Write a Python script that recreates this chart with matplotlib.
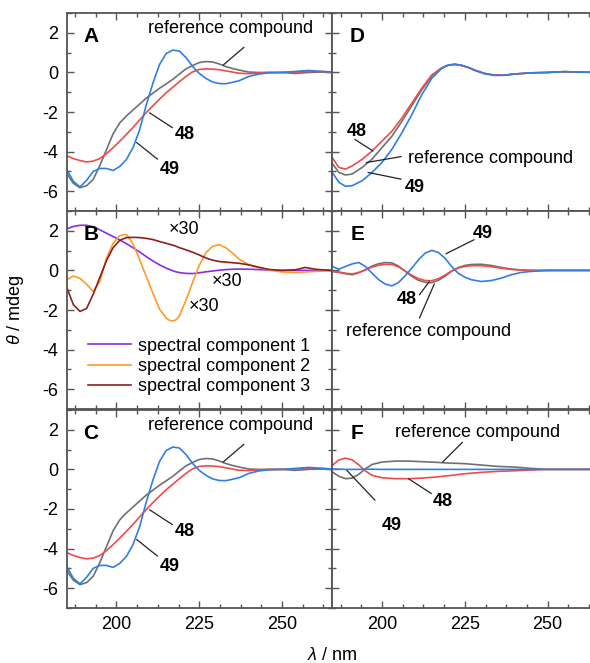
import matplotlib
matplotlib.use("Agg")
import matplotlib.pyplot as plt
from matplotlib.ticker import MultipleLocator, FixedLocator

plt.rcParams["font.family"] = ["Liberation Sans", "DejaVu Sans"]
plt.rcParams["mathtext.fontset"] = "custom"
plt.rcParams["mathtext.it"] = "Liberation Sans:italic"
plt.rcParams["mathtext.rm"] = "Liberation Sans"
plt.rcParams["axes.unicode_minus"] = False

# ---- data (CD spectra, theta / mdeg) ----
wl_A = [185, 187, 189, 191, 193, 195, 197, 199, 201, 203, 205, 207, 209, 211, 213, 215, 217,
        219, 221, 223, 225, 227, 229, 231, 233, 235, 237, 240, 243, 246, 250, 254, 258, 262, 265]
ref_A = [-5.1, -5.6, -5.82, -5.72, -5.4, -4.7, -3.9, -3.1, -2.55, -2.2, -1.9, -1.6, -1.3, -1.05,
         -0.8, -0.58, -0.35, -0.08, 0.18, 0.35, 0.5, 0.55, 0.53, 0.43, 0.3, 0.2, 0.12, 0.02, 0.0,
         0.0, 0.0, -0.05, 0.0, 0.02, 0.0]
c48_A = [-4.2, -4.35, -4.45, -4.52, -4.48, -4.35, -4.1, -3.8, -3.47, -3.13, -2.78, -2.4, -2.03,
         -1.68, -1.35, -1.03, -0.75, -0.47, -0.2, 0.03, 0.15, 0.18, 0.17, 0.14, 0.08, 0.02, -0.04,
         -0.06, -0.03, 0.0, 0.0, 0.02, 0.05, 0.05, 0.02]
c49_A = [-4.9, -5.5, -5.78, -5.45, -5.0, -4.85, -4.85, -4.95, -4.75, -4.4, -3.8, -2.9, -1.65,
         -0.55, 0.4, 0.95, 1.13, 1.08, 0.75, 0.3, -0.05, -0.3, -0.48, -0.56, -0.57, -0.5, -0.42,
         -0.2, -0.08, -0.02, 0.0, 0.05, 0.1, 0.05, 0.02]

wl_B = [185, 187, 189, 191, 193, 195, 197, 199, 201, 203, 205, 207, 209, 211, 213, 215, 216, 217,
        218, 219, 221, 223, 225, 227, 229, 231, 233, 235, 237, 240, 243, 246, 250, 254, 257, 260,
        263, 265]
comp1 = [2.1, 2.22, 2.28, 2.28, 2.21, 2.05, 1.88, 1.71, 1.54, 1.35, 1.15, 0.93, 0.7, 0.48, 0.28,
         0.12, 0.05, -0.02, -0.07, -0.11, -0.15, -0.16, -0.12, -0.07, -0.03, 0.01, 0.04, 0.06, 0.07,
         0.06, 0.04, 0.02, 0.0, 0.0, 0.0, 0.0, 0.0, 0.0]
comp2 = [-0.48, -0.28, -0.4, -0.7, -1.07, -0.56, 0.62, 1.37, 1.76, 1.82, 1.35, 0.55, -0.3, -1.15,
         -1.95, -2.4, -2.52, -2.55, -2.5, -2.3, -1.5, -0.6, 0.25, 0.9, 1.22, 1.3, 1.15, 0.88,
         0.58, 0.28, 0.14, 0.02, -0.08, -0.1, -0.08, -0.05, -0.02, 0.0]
comp3 = [-0.85, -1.73, -2.07, -1.92, -1.2, -0.35, 0.5, 1.15, 1.52, 1.66, 1.67, 1.66, 1.62, 1.56,
         1.46, 1.37, 1.32, 1.28, 1.22, 1.15, 1.04, 0.92, 0.78, 0.63, 0.52, 0.45, 0.42, 0.39, 0.36,
         0.28, 0.16, 0.05, 0.0, 0.03, 0.15, 0.06, 0.02, 0.0]

wl_D = [185, 187, 189, 191, 194, 197, 200, 203, 206, 209, 212, 215, 218, 220, 222, 224, 226, 228,
        231, 234, 237, 240, 245, 250, 255, 260, 265]
ref_D = [-4.6, -5.05, -5.18, -5.13, -4.8, -4.38, -3.8, -3.22, -2.47, -1.68, -0.88, -0.18, 0.23,
         0.37, 0.41, 0.36, 0.26, 0.12, -0.05, -0.14, -0.14, -0.08, -0.02, 0.0, 0.04, 0.02, 0.0]
c48_D = [-4.3, -4.8, -4.88, -4.72, -4.39, -3.97, -3.47, -2.97, -2.3, -1.55, -0.8, -0.13, 0.23,
         0.36, 0.4, 0.35, 0.25, 0.12, -0.05, -0.13, -0.13, -0.08, -0.02, 0.0, 0.04, 0.02, 0.0]
c49_D = [-5.05, -5.55, -5.75, -5.72, -5.47, -5.05, -4.55, -3.88, -3.05, -2.13, -1.13, -0.3, 0.2,
         0.37, 0.42, 0.36, 0.26, 0.1, -0.07, -0.15, -0.14, -0.08, -0.02, 0.0, 0.04, 0.02, 0.0]

wl_E = [185, 187, 189, 191, 193, 195, 197, 199, 201, 203, 205, 207, 209, 211, 213, 215, 217, 219,
        221, 223, 225, 227, 230, 233, 236, 239, 242, 245, 250, 255, 260, 265]
ref_E = [-0.05, -0.1, -0.17, -0.22, -0.12, 0.04, 0.22, 0.34, 0.4, 0.38, 0.22, -0.04, -0.3, -0.5,
         -0.6, -0.62, -0.5, -0.3, -0.04, 0.14, 0.25, 0.3, 0.31, 0.25, 0.15, 0.07, 0.02, 0.0, 0.0,
         0.0, 0.0, 0.0]
c48_E = [-0.05, -0.08, -0.14, -0.18, -0.1, 0.02, 0.17, 0.26, 0.31, 0.3, 0.18, -0.03, -0.24, -0.41,
         -0.51, -0.52, -0.42, -0.24, -0.03, 0.12, 0.2, 0.24, 0.24, 0.19, 0.11, 0.05, 0.02, 0.0, 0.0,
         0.0, 0.0, 0.0]
c49_E = [0.2, 0.06, 0.2, 0.33, 0.4, 0.2, -0.14, -0.47, -0.69, -0.78, -0.61, -0.27, 0.12, 0.53,
         0.87, 1.01, 0.91, 0.62, 0.2, -0.14, -0.34, -0.47, -0.56, -0.51, -0.39, -0.22, -0.1, -0.05,
         0.0, 0.0, 0.0, 0.0]

wl_F = [185, 187, 189, 191, 193, 195, 197, 200, 204, 208, 212, 216, 220, 225, 230, 235, 240, 245,
        250, 255, 260, 265]
ref_F = [-0.13, -0.35, -0.47, -0.44, -0.25, 0.03, 0.25, 0.37, 0.42, 0.42, 0.39, 0.36, 0.32, 0.29,
         0.22, 0.15, 0.12, 0.05, 0.0, 0.0, 0.0, 0.0]
c48_F = [0.2, 0.48, 0.57, 0.48, 0.23, -0.08, -0.3, -0.42, -0.47, -0.47, -0.44, -0.39, -0.32,
         -0.22, -0.15, -0.1, -0.07, -0.03, 0.0, 0.0, 0.0, 0.0]
c49_F = [0.02, 0.01, 0.0, 0.0, 0.0, 0.01, 0.01, 0.0, 0.0, 0.0, 0.0, 0.0, 0.0, 0.0, 0.0, 0.0, 0.0,
         0.0, 0.0, 0.0, 0.0, 0.0]

comp_labels = ["spectral component 1", "spectral component 2", "spectral component 3"]

C_REF, C_48, C_49 = "#707070", "#f24a4c", "#2f7fe4"
C_1, C_2, C_3 = "#8a2ce8", "#ff9a28", "#8e1f1f"
LW = 1.2
FS = 13


def style(ax, left_labels, bottom_labels):
    ax.set_xlim(185, 265)
    ax.set_ylim(-7, 3)
    ax.xaxis.set_major_locator(FixedLocator([200, 225, 250]))
    ax.xaxis.set_minor_locator(MultipleLocator(6.25))
    ax.yaxis.set_major_locator(FixedLocator([-6, -4, -2, 0, 2]))
    ax.yaxis.set_minor_locator(MultipleLocator(1))
    ax.tick_params(which="both", direction="in", top=True, right=True, color="#555555",
                   labelsize=FS, labelleft=left_labels, labelbottom=bottom_labels)
    ax.tick_params(which="major", length=5, width=1.0, pad=6)
    ax.tick_params(which="minor", length=3, width=1.0)
    for s in ax.spines.values():
        s.set_color("#555555")
        s.set_linewidth(1.3)


def three(ax, wl, ref, c48, c49):
    ax.plot(wl, ref, color=C_REF, lw=LW)
    ax.plot(wl, c48, color=C_48, lw=LW)
    ax.plot(wl, c49, color=C_49, lw=LW)


def note(ax, txt, tx, ty, x0, y0, x1, y1, bold=False, ha="center"):
    ax.text(tx, ty, txt, fontsize=FS, ha=ha, va="center",
            fontweight="bold" if bold else "normal")
    ax.annotate("", xy=(x0, y0), xytext=(x1, y1),
                arrowprops=dict(arrowstyle="-", color="#222222", lw=0.9,
                                shrinkA=0, shrinkB=0))


fig = plt.figure(figsize=(5.9, 6.63), dpi=100)
W, H = 0.4492, 0.2986
xl, xr = 0.1131, 0.5632
yb = [0.6817, 0.3831, 0.0830]

axA = fig.add_axes([xl, yb[0], W, H])
axB = fig.add_axes([xl, yb[1], W, H])
axC = fig.add_axes([xl, yb[2], W, H])
axD = fig.add_axes([xr, yb[0], W, H])
axE = fig.add_axes([xr, yb[1], W, H])
axF = fig.add_axes([xr, yb[2], W, H])

style(axA, True, False)
style(axB, True, False)
style(axC, True, True)
style(axD, False, False)
style(axE, False, False)
style(axF, False, True)

# A and C show the same spectra
for ax, letter in [(axA, "A"), (axC, "C")]:
    three(ax, wl_A, ref_A, c48_A, c49_A)
    ax.text(192.2, 1.8, letter, fontsize=15, fontweight="bold", ha="center", va="center")
    note(ax, "reference compound", 234.5, 2.2, 232.2, 0.37, 238.5, 1.27)
    note(ax, "48", 220.5, -3.15, 210.0, -2.04, 216.9, -2.79, bold=True)
    note(ax, "49", 216.0, -4.9, 206.1, -3.54, 212.4, -4.38, bold=True)

# B: spectral components
axB.plot(wl_B, comp1, color=C_1, lw=LW, label=comp_labels[0])
axB.plot(wl_B, comp2, color=C_2, lw=LW, label=comp_labels[1])
axB.plot(wl_B, comp3, color=C_3, lw=LW, label=comp_labels[2])
axB.text(192.5, 1.8, "B", fontsize=15, fontweight="bold", ha="center", va="center")
axB.text(220.5, 2.05, "×30", fontsize=FS, ha="center", va="center")
axB.text(233.4, -0.57, "×30", fontsize=FS, ha="center", va="center")
axB.text(226.5, -1.83, "×30", fontsize=FS, ha="center", va="center")
axB.legend(loc="lower left", bbox_to_anchor=(0.08, 0.07), frameon=False, fontsize=FS,
           handlelength=2.4, handletextpad=0.4, labelspacing=0.18, borderpad=0,
           borderaxespad=0)

# D
three(axD, wl_D, ref_D, c48_D, c49_D)
axD.text(192.5, 1.8, "D", fontsize=15, fontweight="bold", ha="center", va="center")
note(axD, "48", 192.3, -2.97, 191.8, -3.38, 197.3, -3.97, bold=True)
note(axD, "reference compound", 207.8, -4.35, 195.3, -4.55, 205.8, -4.25, ha="left")
note(axD, "49", 209.8, -5.8, 195.8, -5.05, 205.8, -5.39, bold=True)

# E
three(axE, wl_E, ref_E, c48_E, c49_E)
axE.text(192.5, 1.8, "E", fontsize=15, fontweight="bold", ha="center", va="center")
note(axE, "49", 230.3, 1.88, 219.3, 0.84, 227.8, 1.55, bold=True)
note(axE, "48", 207.5, -1.48, 211.3, -1.23, 214.3, -0.56, bold=True)
note(axE, "reference compound", 214.0, -3.09, 211.3, -2.41, 215.8, -0.68)

# F
three(axF, wl_F, ref_F, c48_F, c49_F)
axF.text(192.5, 1.8, "F", fontsize=15, fontweight="bold", ha="center", va="center")
note(axF, "reference compound", 229.0, 1.87, 218.3, 0.37, 224.3, 1.37)
note(axF, "48", 218.3, -1.64, 208.0, -0.47, 214.9, -1.22, bold=True)
note(axF, "49", 202.8, -2.81, 189.4, -0.05, 197.9, -1.56, bold=True)

fig.text(15 / 590, 1 - 310 / 663, r"$\theta$ / mdeg", rotation=90, fontsize=FS,
         ha="center", va="center")
fig.text(332 / 590, 1 - 655 / 663, r"$\lambda$ / nm", fontsize=FS, ha="center", va="center")

fig.savefig("out.png", dpi=100)
